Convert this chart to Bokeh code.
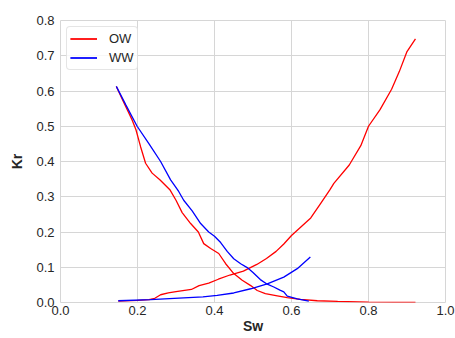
from bokeh.plotting import figure
from bokeh.models import Range1d, FixedTicker, PrintfTickFormatter, Legend, LegendItem
from bokeh.embed import file_html
from bokeh.resources import INLINE

# Oil-wet (OW) relative permeability curves
sw_ow_krw = [0.15, 0.20, 0.23, 0.245, 0.26, 0.28, 0.30, 0.34, 0.36, 0.385, 0.41, 0.44,
             0.475, 0.51, 0.535, 0.56, 0.58, 0.60, 0.625, 0.65, 0.675, 0.70, 0.71, 0.75,
             0.78, 0.80, 0.83, 0.86, 0.88, 0.90, 0.922]
krw_ow = [0.004, 0.006, 0.008, 0.012, 0.022, 0.027, 0.031, 0.037, 0.048, 0.055, 0.066, 0.078,
          0.089, 0.108, 0.125, 0.145, 0.166, 0.19, 0.215, 0.24, 0.28, 0.32, 0.338, 0.39,
          0.445, 0.50, 0.547, 0.605, 0.655, 0.712, 0.748]

sw_ow_kro = [0.145, 0.165, 0.186, 0.196, 0.208, 0.221, 0.238, 0.258, 0.284, 0.30, 0.316,
             0.338, 0.358, 0.372, 0.39, 0.411, 0.429, 0.45, 0.472, 0.494, 0.511, 0.532,
             0.563, 0.589, 0.623, 0.667, 0.72, 0.80, 0.922]
kro_ow = [0.613, 0.566, 0.518, 0.49, 0.442, 0.395, 0.367, 0.348, 0.32, 0.29, 0.255,
          0.224, 0.2, 0.167, 0.153, 0.139, 0.11, 0.082, 0.063, 0.048, 0.034, 0.025,
          0.019, 0.014, 0.009, 0.005, 0.003, 0.001, 0.0]

# Water-wet (WW) relative permeability curves
sw_ww_kro = [0.145, 0.17, 0.199, 0.23, 0.26, 0.286, 0.307, 0.32, 0.342, 0.364, 0.385, 0.40,
             0.416, 0.433, 0.45, 0.468, 0.485, 0.50, 0.519, 0.537, 0.554, 0.57, 0.58,
             0.589, 0.615, 0.645]
kro_ww = [0.613, 0.56, 0.50, 0.45, 0.40, 0.348, 0.315, 0.29, 0.26, 0.224, 0.2, 0.188,
          0.17, 0.145, 0.124, 0.11, 0.099, 0.085, 0.065, 0.052, 0.044, 0.035, 0.03,
          0.018, 0.01, 0.004]

sw_ww_krw = [0.15, 0.234, 0.32, 0.37, 0.407, 0.45, 0.494, 0.537, 0.58, 0.615, 0.649]
krw_ww = [0.005, 0.008, 0.013, 0.016, 0.02, 0.027, 0.039, 0.053, 0.072, 0.096, 0.129]

x_ticks = [0.0, 0.2, 0.4, 0.6, 0.8, 1.0]
y_ticks = [0.0, 0.1, 0.2, 0.3, 0.4, 0.5, 0.6, 0.7, 0.8]

FONT = "Liberation Sans"
TXT = "#262626"
GRID = "#d6d6d6"

p = figure(width=455, height=338, output_backend="svg", toolbar_location=None,
           x_range=Range1d(0, 1.0), y_range=Range1d(0, 0.8),
           min_border_left=60, min_border_right=10, min_border_top=20,
           min_border_bottom=36)
p.background_fill_color = "white"
p.border_fill_color = "white"
p.outline_line_color = GRID
p.outline_line_width = 1

r_ow1 = p.line(sw_ow_krw, krw_ow, line_color="red", line_width=1.3)
r_ow2 = p.line(sw_ow_kro, kro_ow, line_color="red", line_width=1.3)
r_ww1 = p.line(sw_ww_kro, kro_ww, line_color="blue", line_width=1.3)
r_ww2 = p.line(sw_ww_krw, krw_ww, line_color="blue", line_width=1.3)

for ax in (p.xaxis[0], p.yaxis[0]):
    ax.axis_line_color = None
    ax.major_tick_line_color = None
    ax.minor_tick_line_color = None
    ax.major_tick_in = 0
    ax.major_tick_out = 0
    ax.minor_tick_in = 0
    ax.minor_tick_out = 0
    ax.major_label_text_font = FONT
    ax.major_label_text_font_size = "13px"
    ax.major_label_text_color = TXT
    ax.formatter = PrintfTickFormatter(format="%.1f")
    ax.axis_label_text_font = FONT
    ax.axis_label_text_font_size = "14px"
    ax.axis_label_text_font_style = "bold"
    ax.axis_label_text_color = TXT

p.xaxis[0].ticker = FixedTicker(ticks=x_ticks)
p.yaxis[0].ticker = FixedTicker(ticks=y_ticks)
p.xaxis[0].major_label_standoff = 3
p.yaxis[0].major_label_standoff = 6

p.xaxis[0].axis_label = "Sw"
p.xaxis[0].axis_label_standoff = 0
p.yaxis[0].axis_label = "Kr"
p.yaxis[0].axis_label_standoff = 8

p.xgrid[0].grid_line_color = GRID
p.ygrid[0].grid_line_color = GRID
p.xgrid[0].ticker = FixedTicker(ticks=x_ticks)
p.ygrid[0].ticker = FixedTicker(ticks=y_ticks)

legend = Legend(items=[LegendItem(label="OW", renderers=[r_ow1, r_ow2]),
                       LegendItem(label="WW", renderers=[r_ww1, r_ww2])],
                location="top_left")
legend.margin = 6
legend.padding = 3
legend.spacing = 2
legend.glyph_width = 27
legend.glyph_height = 17
legend.label_standoff = 12
legend.label_text_font = FONT
legend.label_text_font_size = "13px"
legend.label_text_color = TXT
legend.border_line_color = "#cccccc"
legend.border_line_width = 1
legend.border_radius = 4
legend.background_fill_alpha = 0.8
p.add_layout(legend, "center")

open("out.html", "w").write(file_html(p, INLINE))
